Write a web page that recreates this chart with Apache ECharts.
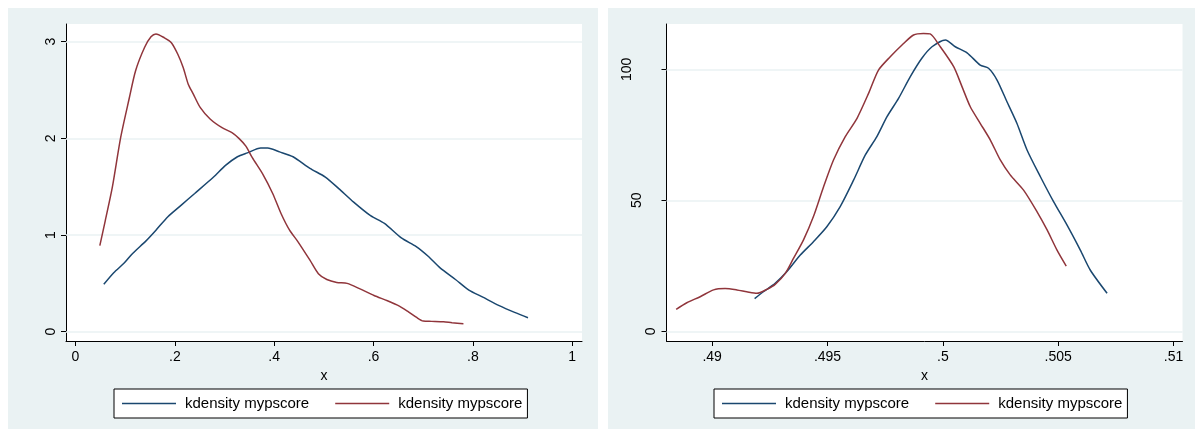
<!DOCTYPE html>
<html>
<head>
<meta charset="utf-8">
<script src="https://cdn.jsdelivr.net/npm/echarts@6/dist/echarts.min.js"></script>
<style>
  html, body { margin: 0; padding: 0; background: #ffffff; }
  #wrap { position: relative; width: 1195px; height: 429px; overflow: hidden; }
  .panel { position: absolute; background: #eaf2f3; }
  #chart { position: absolute; left: 0; top: 0; width: 1195px; height: 429px; }
</style>
</head>
<body>
<div id="wrap">
  <div class="panel" style="left:8px;top:8px;width:590px;height:421px;"></div>
  <div class="panel" style="left:608px;top:8px;width:587px;height:421px;"></div>
  <div id="chart"></div>
</div>
<script>
// ---- Left panel data (kdensity mypscore) ----
const leftBlueX = [0.057,0.077,0.098,0.115,0.142,0.162,0.186,0.213,0.240,0.278,0.302,0.326,0.346,0.373,0.387,0.411,0.438,0.472,0.503,0.530,0.560,0.594,0.622,0.656,0.686,0.710,0.734,0.765,0.792,0.819,0.853,0.884,0.911];
const leftBlueY = [0.49,0.61,0.71,0.81,0.94,1.05,1.19,1.31,1.43,1.60,1.72,1.81,1.85,1.90,1.90,1.86,1.81,1.69,1.60,1.48,1.34,1.20,1.12,0.97,0.88,0.78,0.66,0.54,0.43,0.36,0.27,0.20,0.145];
const leftRedX = [0.049,0.060,0.074,0.091,0.108,0.121,0.139,0.152,0.162,0.179,0.193,0.206,0.217,0.227,0.237,0.251,0.271,0.295,0.315,0.329,0.343,0.356,0.377,0.397,0.414,0.431,0.448,0.472,0.489,0.506,0.526,0.547,0.574,0.601,0.628,0.652,0.669,0.686,0.700,0.717,0.741,0.758,0.781];
const leftRedY = [0.89,1.15,1.49,2.01,2.41,2.70,2.94,3.05,3.08,3.04,2.99,2.87,2.73,2.56,2.46,2.32,2.20,2.11,2.06,2.00,1.92,1.80,1.63,1.43,1.22,1.05,0.93,0.74,0.60,0.54,0.51,0.50,0.44,0.375,0.32,0.265,0.21,0.15,0.11,0.107,0.103,0.093,0.083];

// ---- Right panel data ----
const rightBlueX = [0.49184,0.49222,0.49273,0.49324,0.49382,0.49439,0.49497,0.49555,0.49613,0.49664,0.49714,0.49758,0.49808,0.49859,0.49909,0.49953,0.50011,0.50054,0.50105,0.50162,0.50198,0.50235,0.50278,0.50321,0.50365,0.50423,0.50480,0.50538,0.50596,0.50639,0.50712];
const rightBlueY = [12.5,15.1,18.3,22.8,29.1,34.2,39.9,47.6,57.7,67.3,74.3,81.9,88.9,97.2,104.2,108.6,111.2,108.6,106.3,101.6,100.4,95.9,87.6,79.4,69.2,59.0,49.5,40.6,31.0,23.4,14.5];
const rightRedX = [0.48844,0.48890,0.48948,0.49006,0.49056,0.49107,0.49150,0.49194,0.49237,0.49273,0.49317,0.49353,0.49396,0.49439,0.49483,0.49526,0.49577,0.49628,0.49678,0.49721,0.49772,0.49823,0.49873,0.49916,0.49945,0.49989,0.50047,0.50083,0.50119,0.50162,0.50206,0.50249,0.50292,0.50350,0.50408,0.50452,0.50495,0.50535];
const rightRedY = [8.4,10.9,13.2,15.8,16.3,15.8,15.1,14.5,16.0,17.9,22.1,27.9,34.9,43.8,55.2,65.4,74.3,81.3,90.8,99.7,104.8,109.3,113.1,113.7,113.5,108.6,101.0,93.4,85.7,79.4,73.0,65.4,59.7,53.9,45.7,38.7,31.0,24.9];

// ---- Ticks and labels ----
const leftXTicks = [0, 0.2, 0.4, 0.6, 0.8, 1];
const leftXLabels = ['0', '.2', '.4', '.6', '.8', '1'];
const leftYTicks = [0, 1, 2, 3];
const leftYLabels = ['0', '1', '2', '3'];
const rightXTicks = [0.49, 0.495, 0.5, 0.505, 0.51];
const rightXLabels = ['.49', '.495', '.5', '.505', '.51'];
const rightYTicks = [0, 50, 100];
const rightYLabels = ['0', '50', '100'];
const legendLabels = ['kdensity mypscore', 'kdensity mypscore'];
const axisTitle = 'x';

const BLUE = '#1a476f', RED = '#90353b', GRIDC = '#eaf2f3';
const FONT = "'Liberation Sans', Arial, sans-serif";
const LINE_ICON = 'path://M0,0H54V1.5H0Z';

function pairs(xs, ys) { return xs.map((x, i) => [x, ys[i]]); }
function lookup(ticks, labels) {
  return function (v) {
    let best = 0, bd = Infinity;
    ticks.forEach((t, i) => { const d = Math.abs(t - v); if (d < bd) { bd = d; best = i; } });
    return labels[best];
  };
}

function xAxisFor(gi, min, max, ticks, labels) {
  return {
    type: 'value', gridIndex: gi, min: min, max: max,
    name: axisTitle, nameLocation: 'middle', nameGap: 22,
    nameTextStyle: { fontFamily: FONT, fontSize: 14, color: '#000' },
    axisLine: { show: true, onZero: false, lineStyle: { color: '#000', width: 1 } },
    axisTick: { show: true, length: 5, customValues: ticks, lineStyle: { color: '#000' } },
    axisLabel: { customValues: ticks, formatter: lookup(ticks, labels), margin: 9,
      fontFamily: FONT, fontSize: 14, color: '#000' },
    splitLine: { show: false }
  };
}

function yAxisFor(gi, min, max, ticks, labels, pads) {
  const rich = {};
  labels.forEach((l, i) => {
    rich['p' + i] = { fontFamily: FONT, fontSize: 14, color: '#000', padding: [0, 0, pads[i], 0] };
  });
  const lk = lookup(ticks, labels);
  return {
    type: 'value', gridIndex: gi, min: min, max: max,
    axisLine: { show: true, onZero: false, lineStyle: { color: '#000', width: 1 } },
    axisTick: { show: true, length: 5, customValues: ticks, lineStyle: { color: '#000' } },
    axisLabel: { customValues: ticks, rotate: 90, margin: 8,
      fontFamily: FONT, fontSize: 14, color: '#000', rich: rich,
      formatter: function (v) { const l = lk(v); return '{p' + labels.indexOf(l) + '|' + l + '}'; } },
    splitLine: { show: false }
  };
}

function gridLines(ticks) {
  return {
    silent: true, symbol: 'none', z: 1, animation: false,
    label: { show: false },
    lineStyle: { color: GRIDC, width: 1.5, type: 'solid' },
    emphasis: { disabled: true },
    data: ticks.map(v => ({ yAxis: v }))
  };
}

function lineSeries(name, data, color, xi, yi, ticks) {
  const s = {
    name: name, type: 'line', data: data, xAxisIndex: xi, yAxisIndex: yi,
    symbol: 'none', showSymbol: false, smooth: 0.25, z: 3,
    lineStyle: { color: color, width: 1.5 }, itemStyle: { color: color },
    emphasis: { disabled: true }, animation: false
  };
  if (ticks) s.markLine = gridLines(ticks);
  return s;
}

function legendFor(names, left) {
  return {
    data: names.map(n => ({ name: n, icon: LINE_ICON })),
    left: left, top: 389, orient: 'horizontal',
    itemWidth: 54, itemHeight: 14, itemGap: 26,
    padding: [7, 5, 7, 8],
    borderColor: '#000', borderWidth: 1, backgroundColor: '#fff',
    selectedMode: false,
    formatter: function (n) { return legendLabels[names.indexOf(n)]; },
    textStyle: { fontFamily: FONT, fontSize: 15, color: '#000', padding: [0, 0, 0, 4] }
  };
}

const chart = echarts.init(document.getElementById('chart'), null, { renderer: 'canvas' });
chart.setOption({
  animation: false,
  backgroundColor: 'transparent',
  grid: [
    { left: 66, top: 24, width: 516, height: 317, show: true, backgroundColor: '#fff', borderWidth: 0 },
    { left: 666.5, top: 24, width: 516, height: 317, show: true, backgroundColor: '#fff', borderWidth: 0 }
  ],
  xAxis: [
    xAxisFor(0, -0.0191, 1.0197, leftXTicks, leftXLabels),
    xAxisFor(1, 0.48802, 0.51039, rightXTicks, rightXLabels)
  ],
  yAxis: [
    yAxisFor(0, -0.096, 3.183, leftYTicks, leftYLabels, [0, 0, 0, 0]),
    yAxisFor(1, -3.70, 117.29, rightYTicks, rightYLabels, [0, 14, 24])
  ],
  legend: [
    legendFor(['L1', 'L2'], 114),
    legendFor(['R1', 'R2'], 714)
  ],
  series: [
    lineSeries('L1', pairs(leftBlueX, leftBlueY), BLUE, 0, 0, leftYTicks),
    lineSeries('L2', pairs(leftRedX, leftRedY), RED, 0, 0, null),
    lineSeries('R1', pairs(rightBlueX, rightBlueY), BLUE, 1, 1, rightYTicks),
    lineSeries('R2', pairs(rightRedX, rightRedY), RED, 1, 1, null)
  ]
});
</script>
</body>
</html>
